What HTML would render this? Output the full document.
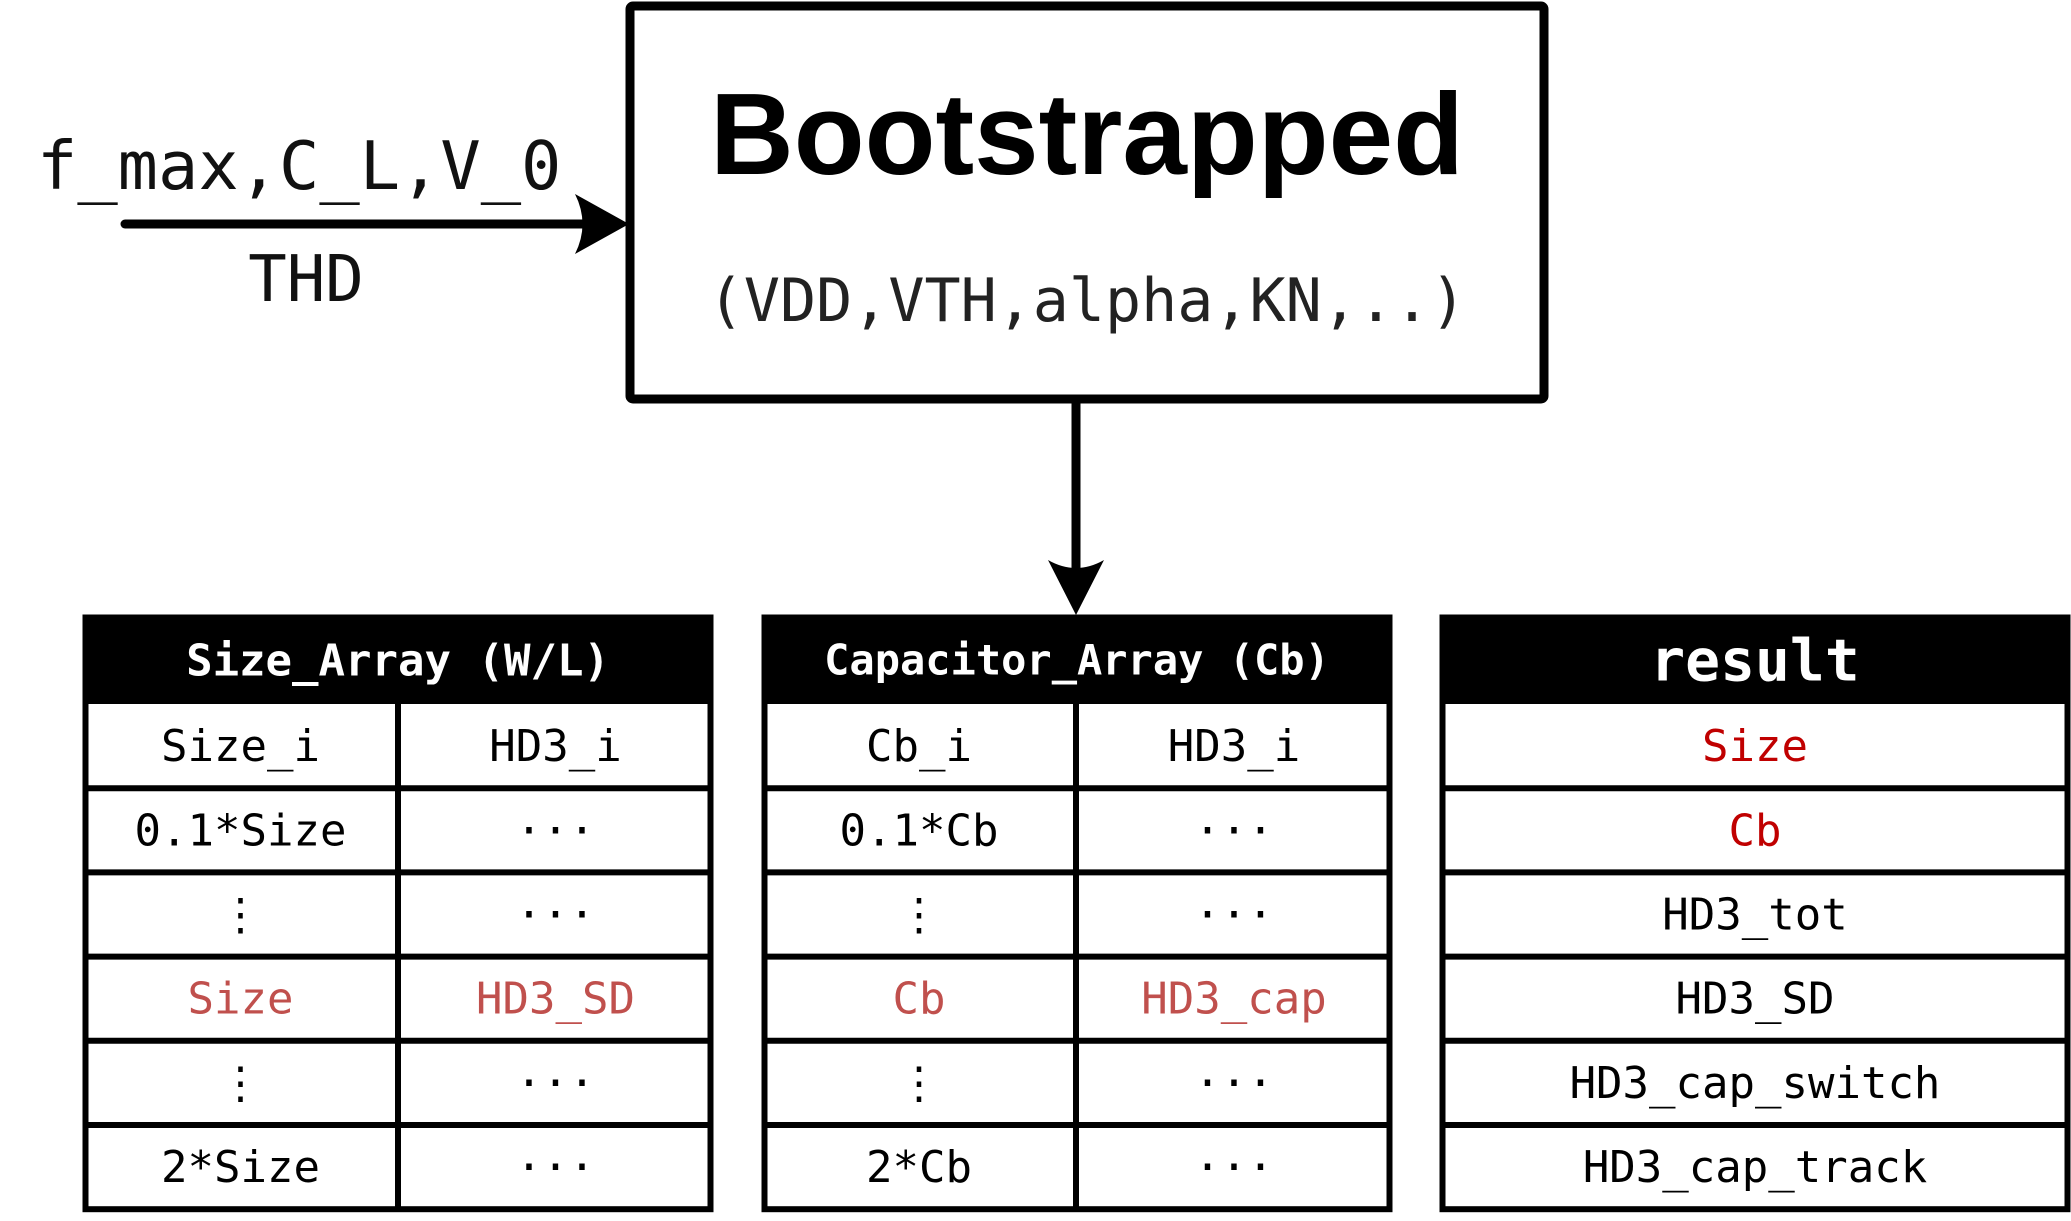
<!DOCTYPE html>
<html><head><meta charset="utf-8"><style>
html,body{margin:0;padding:0;background:#fff;}
svg{display:block;}
.m{font-family:"DejaVu Sans Mono","Liberation Mono",monospace;}
</style></head><body>
<svg width="2071" height="1221" viewBox="0 0 2071 1221" xmlns="http://www.w3.org/2000/svg">
<g>
<rect x="630" y="6" width="914" height="393" fill="#fff" stroke="#000" stroke-width="9" rx="3"/>
<text x="1087" y="174" text-anchor="middle" font-family="'Liberation Sans',sans-serif" font-weight="bold" font-size="116">Bootstrapped</text>
<text x="1087" y="321" text-anchor="middle" class="m" font-size="60" fill="#222">(VDD,VTH,alpha,KN,..)</text>
</g>
<g>
<line x1="125" y1="224" x2="590" y2="224" stroke="#000" stroke-width="9" stroke-linecap="round"/>
<path d="M629 224 L575 194 Q590 224 575 254 Z" fill="#000"/>
<text x="37" y="189" class="m" font-size="67" fill="#111">f_max,C_L,V_0</text>
<text x="306" y="301" text-anchor="middle" class="m" font-size="64" fill="#111">THD</text>
</g>
<g>
<line x1="1076" y1="403" x2="1076" y2="570" stroke="#000" stroke-width="9"/>
<path d="M1076 615 L1048 560 Q1076 576 1104 560 Z" fill="#000"/>
</g>
<g id="tables"></g>
</svg>
<script>
const tables=[
 {name:'size-array-table',x:83,w:630,div:398,title:'Size_Array (W/L)',tf:44,
  rows:[['Size_i','HD3_i'],['0.1*Size','···'],['⋮','···'],['Size','HD3_SD'],['⋮','···'],['2*Size','···']],red:3},
 {name:'capacitor-array-table',x:762,w:630,div:1076,title:'Capacitor_Array (Cb)',tf:42,
  rows:[['Cb_i','HD3_i'],['0.1*Cb','···'],['⋮','···'],['Cb','HD3_cap'],['⋮','···'],['2*Cb','···']],red:3},
 {name:'result-table',x:1440,w:630,div:null,title:'result',tf:58,
  rows:[['Size'],['Cb'],['HD3_tot'],['HD3_SD'],['HD3_cap_switch'],['HD3_cap_track']],red:-1}
];
const NS='http://www.w3.org/2000/svg';
const g=document.getElementById('tables');
function el(t,a,p){const e=document.createElementNS(NS,t);for(const k in a)e.setAttribute(k,a[k]);p.appendChild(e);return e;}
const top0=615,hb=704,rh=84.2;
tables.forEach(t=>{
 const tg=el('g',{},g);
 
 
 const bottom=hb+rh*6;
 el('rect',{x:t.x,y:top0,width:t.w,height:hb-top0,fill:'#000'},tg);
 const th=el('text',{x:t.x+t.w/2,y:(top0+hb)/2+t.tf*0.36,'text-anchor':'middle','class':'m','font-size':t.tf,'font-weight':'bold',fill:'#fff'},tg);
 th.textContent=t.title;
 
 
 el('rect',{x:t.x+2.5,y:top0+2.5,width:t.w-5,height:bottom-top0-2.5,fill:'none',stroke:'#000','stroke-width':6},tg);
 for(let i=1;i<6;i++) el('line',{x1:t.x,x2:t.x+t.w,y1:hb+i*rh,y2:hb+i*rh,stroke:'#000','stroke-width':6},tg);
 if(t.div) el('line',{x1:t.div,x2:t.div,y1:hb,y2:bottom,stroke:'#000','stroke-width':6},tg);
 t.rows.forEach((r,i)=>{
  const cy=hb+i*rh+rh/2;
  const cols=t.div?[(t.x+t.div)/2,(t.div+t.x+t.w)/2]:[t.x+t.w/2];
  r.forEach((s,j)=>{
   const red=i===t.red||(!t.div&&i<2);
   const col=red?(t.div?'#c0504d':'#c00000'):'#000';
   const tx=el('text',{x:cols[j],y:cy+15,'text-anchor':'middle','class':'m','font-size':44,fill:col},tg);
   tx.textContent=s;
   
   
  });
 });
});
</script>
</body></html>
